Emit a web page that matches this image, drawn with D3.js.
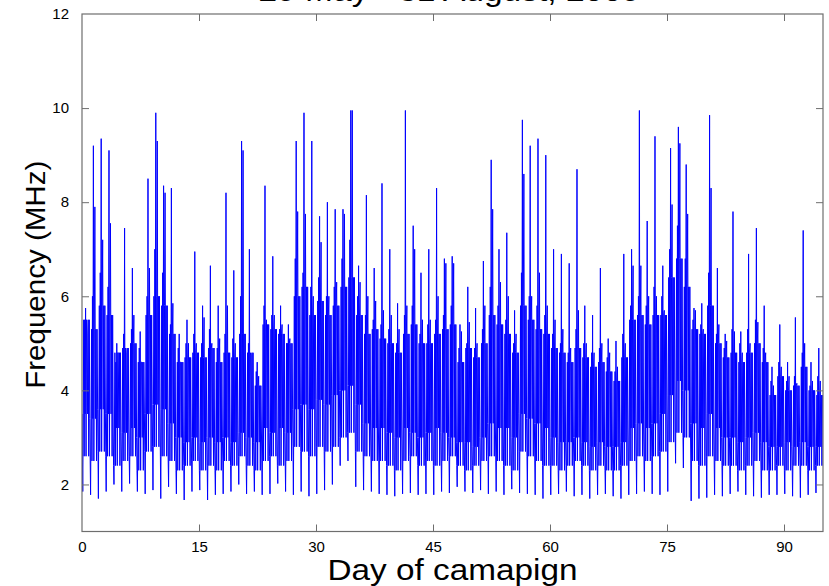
<!DOCTYPE html>
<html>
<head>
<meta charset="utf-8">
<script src="https://cdn.jsdelivr.net/npm/d3@7"></script>
<style>
  html, body { margin: 0; padding: 0; background: #fff; }
  svg { display: block; }
  text { font-family: "Liberation Sans", Arial, sans-serif; fill: #000; }
</style>
</head>
<body>
<svg id="chart" width="829" height="586"></svg>
<script>
// ---- Data, one entry per campaign day 0..94 ----
const titleText = "29 May - 31 August, 2009";
const xLabel = "Day of camapign";
const yLabel = "Frequency (MHz)";
const xTicks = [0, 15, 30, 45, 60, 75, 90];
const yTicks = [2, 4, 6, 8, 10, 12];

// daily minimum (pre-dawn)
const dayLow = [
  1.85,1.78,1.70,1.85,2.00,1.85,2.02,1.85,1.80,1.88,1.70,1.95,1.80,1.67,1.85,1.88,
  1.67,1.78,1.80,1.85,2.00,1.80,1.85,1.78,1.80,2.02,1.85,1.78,1.85,1.75,1.80,1.88,
  2.00,2.40,2.50,1.95,1.88,1.85,1.80,1.78,1.75,1.80,1.82,1.78,1.80,1.78,1.85,1.82,
  1.95,1.85,1.82,1.88,1.80,1.85,1.78,1.90,1.82,1.80,1.78,1.70,1.78,1.80,1.85,1.75,
  1.78,1.70,1.78,1.80,1.75,1.70,1.78,1.80,1.85,1.80,1.78,1.85,2.45,2.35,1.65,1.70,
  1.72,1.78,1.75,1.80,1.85,1.78,1.75,1.72,1.78,1.78,1.80,1.75,1.72,1.78,1.82
];
// secondary dips
const dayDip = [
  2.6,2.5,2.7,2.6,2.4,2.5,2.6,2.3,2.7,2.8,2.6,2.5,2.3,2.4,2.5,2.3,
  2.4,2.3,2.5,2.4,2.6,2.4,2.3,2.5,2.6,2.4,2.5,2.8,2.7,2.6,2.8,2.7,
  2.8,3.0,3.1,2.7,2.6,2.5,2.5,2.4,2.3,2.5,2.6,2.4,2.5,2.4,2.5,2.6,
  2.4,2.3,2.4,2.5,2.6,2.5,2.4,2.3,2.7,2.6,2.5,2.4,2.4,2.3,2.4,2.5,
  2.4,2.3,2.4,2.3,2.3,2.4,2.5,2.6,2.5,2.6,2.7,2.9,3.1,3.0,2.5,2.4,
  2.6,2.5,2.4,2.4,2.3,2.4,2.5,2.3,2.3,2.4,2.3,2.4,2.4,2.3,2.4
];
// night-time level
const dayMid = [
  3.5,3.4,3.6,3.5, 3.2,3.1,3.2,3.0, 3.5,3.7,3.6,3.3,
  3.0,2.9,3.0,2.9,3.0,2.9,3.0,2.9, 3.1,3.0,2.9, 3.2,3.1,3.2,3.1,
  3.6,3.7,3.6,3.8,3.7,3.9,4.0,4.1,3.7, 3.3,3.2,3.2,3.1,3.0,
  3.2,3.1,3.0,3.1,3.2,3.1,3.0, 2.9,2.9,2.8,3.0,
  3.3,3.2,3.2,3.0,3.5,3.4,3.3,3.2,
  3.0,2.9,2.9,3.0,2.9,2.8,2.9,2.8,2.8,2.9,
  3.2,3.3,3.2,3.3, 3.5,3.9,4.2,4.0, 3.3,3.2,3.5,3.2,
  3.0,3.0,2.9,3.0,3.1,2.9, 2.8,2.8,2.9,2.8,2.9,2.8,2.8
];
// daytime level
const dayBase = [
  5.5,5.3,5.8,5.6, 4.8,4.9,5.0,4.6, 5.6,6.0,5.8,5.2,
  4.6,4.7,4.8,4.7,4.9,4.6,4.8,4.7, 5.2,4.8,4.1, 5.4,5.3,5.2,5.0,
  6.0,6.2,5.6,5.9,5.6,5.8,6.2,6.4,5.6, 5.2,5.3,5.1,5.0,4.8,
  5.2,5.4,5.0,5.0,5.2,5.3,5.4, 4.6,4.9,4.7,5.0,
  5.6,5.4,5.2,4.8,5.8,5.5,5.3,5.2,
  4.9,4.8,4.6,4.9,4.7,4.5,4.6,4.4,4.2,4.7,
  5.5,5.6,5.4,5.6, 5.6,6.4,6.8,6.2, 5.3,5.2,5.8,5.0,
  4.7,4.8,4.6,4.8,5.0,4.6, 3.9,4.3,4.0,4.1,4.5,4.0,3.9
];
// highest spike of the day
const dayPeakA = [
  5.75,9.2,9.35,9.1,5.0,7.45,6.6,5.25,8.5,9.9,
  8.35,8.3,5.2,5.5,6.95,5.8,6.65,5.8,8.2,6.55,
  9.3,7.0,4.6,8.35,6.85,5.8,5.4,9.3,9.9,9.3,
  7.7,8.0,7.85,7.85,9.95,6.65,8.15,6.6,8.4,7.0,
  5.85,9.95,7.5,6.5,7.0,8.3,6.8,6.85,5.4,6.2,
  5.75,6.75,8.9,7.0,7.35,5.7,9.75,9.2,9.35,9.0,
  7.0,6.9,6.7,8.7,5.8,5.6,6.6,5.1,5.05,6.9,
  7.0,9.95,7.6,9.4,6.65,9.15,9.6,8.8,5.75,5.85,
  9.85,6.6,5.2,7.8,5.25,6.9,7.45,5.8,4.5,5.4,
  4.6,5.55,7.4,4.6,4.9
];
// second spike of the day
const dayPeakB = [
  5.2,7.9,7.2,7.55,4.8,4.8,5.6,4.6,6.6,9.3,
  8.2,5.85,4.6,5.0,5.0,5.55,5.0,5.1,5.8,5.0,
  9.1,4.75,4.3,5.5,5.6,5.4,5.1,7.8,7.75,6.0,
  7.15,6.0,6.3,7.75,9.95,6.3,6.0,5.9,5.7,5.6,
  5.3,5.8,7.0,5.5,5.5,6.0,6.7,6.7,5.25,5.45,
  5.0,5.8,7.85,6.3,6.0,5.2,8.6,6.0,6.5,5.8,
  5.5,5.3,4.9,5.7,5.0,4.8,5.0,4.8,4.5,5.0,
  6.65,6.65,6.0,6.0,5.7,7.95,9.25,7.75,5.7,5.3,
  8.3,5.4,5.05,5.25,4.8,5.0,5.45,4.8,4.1,4.5,
  4.3,4.15,5.0,4.2,4.2
];
// moderate third spike of the day
const dayPeakC = [
  5.5,6.0,6.5,6.2,4.6,5.2,5.3,4.9,6.0,7.0,6.5,5.4,4.9,5.0,5.2,5.0,
  5.3,4.9,5.2,5.1,6.0,5.0,4.4,5.8,5.6,5.3,5.0,6.8,6.5,6.2,6.4,6.0,
  6.2,6.8,7.2,6.0,5.6,5.5,5.4,5.3,5.0,5.6,5.8,5.2,5.4,5.5,5.6,5.8,
  4.9,5.0,4.9,5.3,6.2,5.8,5.5,5.0,6.5,6.0,5.8,5.6,5.2,5.0,4.8,5.3,
  5.0,4.8,4.9,4.7,4.4,5.2,5.8,6.0,5.8,6.2,6.0,7.0,7.5,6.8,5.5,5.4,
  6.5,5.2,4.9,5.3,5.0,5.3,5.5,4.9,4.2,4.6,4.2,4.3,4.8,4.1,4.3
];
// sampling order inside each day: [fraction of day, which daily value]
const dayShape = [
  [0.00,"mid"],[0.05,"dip"],[0.10,"low"],[0.16,"mid"],[0.22,"base"],[0.28,"dip"],
  [0.34,"peakC"],[0.40,"mid"],[0.46,"peakA"],[0.52,"dip"],[0.58,"base"],[0.65,"peakB"],
  [0.72,"mid"],[0.79,"base"],[0.86,"dip"],[0.93,"base"]
];

// ---- Build series ----
const lookup = { low: dayLow, dip: dayDip, mid: dayMid, base: dayBase,
                 peakA: dayPeakA, peakB: dayPeakB, peakC: dayPeakC };
const series = [];
dayLow.forEach((_, d) => {
  dayShape.forEach(([f, key]) => series.push({ t: d + f, v: lookup[key][d] }));
});

// ---- Layout ----
const svg = d3.select("#chart");
const L = 82, R = 823, T = 14, B = 531.5;
const x = d3.scaleLinear().domain([0, 95]).range([L, R]);
const y = d3.scaleLinear().domain([1, 12]).range([B, T]);
const axisColor = "#6e6e6e";

svg.append("defs").append("clipPath").attr("id", "clip")
  .append("rect").attr("x", L).attr("y", T).attr("width", R - L).attr("height", B - T);

// data line
svg.append("path")
  .datum(series)
  .attr("clip-path", "url(#clip)")
  .attr("fill", "none")
  .attr("stroke", "#0000ff")
  .attr("stroke-width", 1.0)
  .attr("stroke-linejoin", "miter")
  .attr("d", d3.line().x(p => x(p.t)).y(p => y(p.v)));

// axes (MATLAB-style box with inward ticks)
const tickLen = 7;
const gB = svg.append("g").attr("transform", `translate(0,${B})`)
  .call(d3.axisBottom(x).tickValues(xTicks).tickSizeInner(-tickLen).tickSizeOuter(0).tickPadding(10));
const gT = svg.append("g").attr("transform", `translate(0,${T})`)
  .call(d3.axisTop(x).tickValues(xTicks).tickSizeInner(-tickLen).tickSizeOuter(0).tickFormat(""));
const gL = svg.append("g").attr("transform", `translate(${L},0)`)
  .call(d3.axisLeft(y).tickValues(yTicks).tickSizeInner(-tickLen).tickSizeOuter(0).tickPadding(13));
const gR = svg.append("g").attr("transform", `translate(${R},0)`)
  .call(d3.axisRight(y).tickValues(yTicks).tickSizeInner(-tickLen).tickSizeOuter(0).tickFormat(""));

[gB, gT, gL, gR].forEach(g => {
  g.select(".domain").remove();
  g.selectAll(".tick line").attr("stroke", axisColor).attr("stroke-width", 1);
  g.selectAll(".tick text")
    .attr("font-family", "'Liberation Sans', Arial, sans-serif")
    .attr("font-size", 15).attr("fill", "#111");
});
gT.selectAll(".tick").filter(d => d === 0).select("line").remove();
gB.selectAll(".tick").filter(d => d === 0).select("line").remove();
gL.selectAll(".tick").filter(d => d === 12).select("line").remove();
gR.selectAll(".tick").filter(d => d === 12).select("line").remove();

svg.append("rect")
  .attr("x", L).attr("y", T).attr("width", R - L).attr("height", B - T)
  .attr("fill", "none").attr("stroke", axisColor).attr("stroke-width", 1.2);

// titles (the reference shows the title clipped at the top edge)
svg.append("text")
  .attr("x", (L + R) / 2 - 3).attr("y", 1)
  .attr("text-anchor", "middle").attr("font-size", 29)
  .attr("textLength", 382).attr("lengthAdjust", "spacingAndGlyphs")
  .text(titleText);

svg.append("text")
  .attr("x", (L + R) / 2).attr("y", 580)
  .attr("text-anchor", "middle").attr("font-size", 29)
  .attr("textLength", 250).attr("lengthAdjust", "spacingAndGlyphs")
  .text(xLabel);

svg.append("text")
  .attr("transform", `translate(45,${(T + B) / 2 + 2}) rotate(-90)`)
  .attr("text-anchor", "middle").attr("font-size", 28)
  .attr("textLength", 228).attr("lengthAdjust", "spacingAndGlyphs")
  .text(yLabel);
</script>
</body>
</html>
